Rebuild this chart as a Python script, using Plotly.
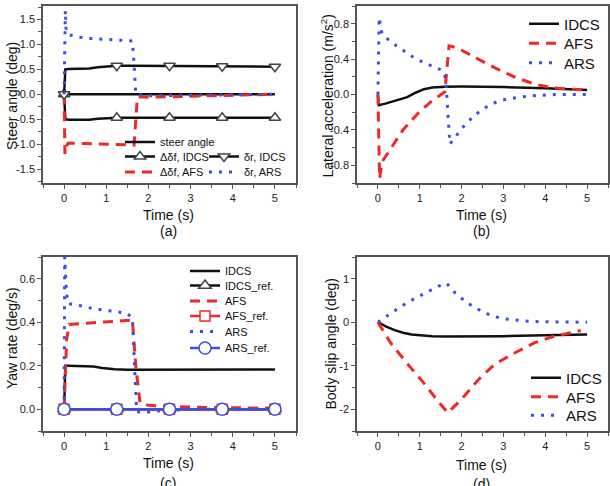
import plotly.graph_objects as go

# ---------------- data ----------------
X_TICKS = [0, 1, 2, 3, 4, 5]
MARKER_T = [0, 1.25, 2.5, 3.75, 5]

# (a) steer angle
A_STEER_T = [0, 5]
A_STEER = [0, 0]
A_DF_IDCS_T = [0, 0.03, 0.1, 0.3, 0.6, 0.8, 1.0, 1.25, 1.6, 2.0, 2.5, 3.0, 3.75, 4.5, 5.0]
A_DF_IDCS = [0, -0.5, -0.51, -0.51, -0.51, -0.49, -0.475, -0.47, -0.47, -0.47, -0.47, -0.47, -0.47, -0.47, -0.47]
A_DR_IDCS_T = [0, 0.03, 0.1, 0.3, 0.6, 0.8, 1.0, 1.25, 1.6, 2.0, 2.5, 3.0, 3.75, 4.5, 5.0]
A_DR_IDCS = [0, 0.5, 0.505, 0.51, 0.515, 0.54, 0.56, 0.57, 0.57, 0.57, 0.57, 0.565, 0.56, 0.555, 0.55]
A_DF_AFS_T = [0, 0.02, 0.05, 0.1, 0.5, 1.0, 1.5, 1.66, 1.7, 1.74, 2.0, 2.5, 3.0, 3.5, 4.0, 4.5, 5.0]
A_DF_AFS = [0, -1.2, -1.05, -0.98, -0.99, -1.0, -1.01, -1.02, -0.5, -0.05, -0.06, -0.05, -0.04, -0.03, -0.02, -0.01, 0.0]
A_DR_ARS_T = [0, 0.01, 0.03, 0.05, 0.1, 0.3, 0.6, 1.0, 1.3, 1.62, 1.66, 1.7, 2.0, 2.5, 3.0, 4.0, 5.0]
A_DR_ARS = [0, 0.8, 1.68, 1.25, 1.2, 1.15, 1.12, 1.1, 1.09, 1.07, 0.6, 0.0, -0.03, -0.03, -0.02, -0.01, 0.0]
A_Y_TICKS = [-1.5, -1.0, -0.5, 0.0, 0.5, 1.0, 1.5]
A_Y_LABELS = ["-1.5", "-1.0", "-0.5", "0.0", "0.5", "1.0", "1.5"]

# (b) lateral acceleration
B_IDCS_T = [0, 0.02, 0.2, 0.5, 0.7, 0.9, 1.1, 1.3, 1.6, 2.0, 3.0, 4.0, 5.0]
B_IDCS = [0, -0.12, -0.1, -0.06, -0.03, 0.02, 0.06, 0.08, 0.088, 0.09, 0.085, 0.07, 0.05]
B_AFS_T = [0, 0.04, 0.1, 0.3, 0.6, 1.0, 1.3, 1.6, 1.7, 1.8, 2.0, 2.4, 2.8, 3.3, 3.8, 4.3, 4.8, 5.0]
B_AFS = [0, -0.95, -0.76, -0.62, -0.4, -0.19, -0.07, 0.03, 0.55, 0.54, 0.5, 0.4, 0.3, 0.19, 0.11, 0.07, 0.05, 0.05]
B_ARS_T = [0, 0.03, 0.1, 0.35, 0.6, 0.85, 1.1, 1.35, 1.55, 1.62, 1.72, 1.9, 2.1, 2.35, 2.6, 2.85, 3.1, 3.4, 3.8, 4.3, 5.0]
B_ARS = [0, 0.87, 0.68, 0.58, 0.5, 0.42, 0.36, 0.31, 0.27, 0.18, -0.56, -0.45, -0.33, -0.22, -0.14, -0.08, -0.05, -0.03, -0.01, 0, 0]
B_Y_TICKS = [-0.8, -0.4, 0.0, 0.4, 0.8]
B_Y_LABELS = ["-0.8", "-0.4", "0.0", "0.4", "0.8"]

# (c) yaw rate
C_IDCS_T = [0, 0.03, 0.1, 0.55, 0.7, 0.9, 1.2, 1.5, 2, 3, 4, 5]
C_IDCS = [0, 0.2, 0.2, 0.2, 0.197, 0.19, 0.184, 0.182, 0.182, 0.182, 0.183, 0.183]
C_AFS_T = [0, 0.03, 0.06, 0.12, 0.5, 1.0, 1.4, 1.62, 1.7, 1.8, 2.0, 2.5, 3.5, 5]
C_AFS = [0, 0.2, 0.32, 0.39, 0.395, 0.4, 0.405, 0.41, 0.2, 0.03, 0.018, 0.012, 0.008, 0.005]
C_ARS_T = [0, 0.015, 0.06, 0.1, 0.3, 0.75, 1.2, 1.5, 1.62, 1.72, 1.9, 2.2, 3.0, 5.0]
C_ARS = [0, 0.7, 0.53, 0.485, 0.48, 0.46, 0.45, 0.44, 0.42, -0.01, -0.015, -0.008, 0, 0]
C_REF_T = [0, 1.25, 2.5, 3.75, 5]
C_IDCS_REF = [0, 0, 0, 0, 0]
C_AFS_REF = [0, 0, 0, 0, 0]
C_ARS_REF = [0, 0, 0, 0, 0]
C_Y_TICKS = [0.0, 0.2, 0.4, 0.6]
C_Y_LABELS = ["0.0", "0.2", "0.4", "0.6"]

# (d) body slip angle
D_IDCS_T = [0, 0.2, 0.4, 0.6, 0.8, 1.0, 1.3, 1.6, 2.0, 3.0, 4.0, 4.5, 5.0]
D_IDCS = [0, -0.1, -0.18, -0.24, -0.28, -0.3, -0.32, -0.325, -0.325, -0.32, -0.3, -0.29, -0.28]
D_AFS_T = [0, 0.3, 0.7, 1.1, 1.45, 1.67, 2.0, 2.4, 2.8, 3.3, 3.75, 4.15, 4.6, 4.85]
D_AFS = [0, -0.47, -0.95, -1.4, -1.83, -2.08, -1.77, -1.32, -0.96, -0.69, -0.47, -0.34, -0.24, -0.19]
D_ARS_T = [0, 0.25, 0.5, 0.75, 1.0, 1.25, 1.45, 1.64, 1.85, 2.1, 2.35, 2.6, 2.8, 3.0, 3.25, 3.5, 3.75, 4.0, 5.0]
D_ARS = [0, 0.17, 0.33, 0.48, 0.61, 0.73, 0.83, 0.9, 0.67, 0.47, 0.32, 0.2, 0.13, 0.08, 0.05, 0.03, 0.015, 0.01, 0.0]
D_Y_TICKS = [-2, -1, 0, 1]
D_Y_LABELS = ["-2", "-1", "0", "1"]

# ---------------- styling ----------------
FONT = "Arial, Liberation Sans, sans-serif"
BLACK = "#111111"
RED = "#f02828"
BLUE = "#3d4fe0"
FRAME = "#555555"
SOLID = dict(color=BLACK, width=2.5)
DASH = dict(color=RED, width=3, dash="10px,7px")
DOT = dict(color=BLUE, width=3, dash="3px,7px")
W, H = 610, 486


def px_x(p):
    return p / W


def px_y(p):
    return 1 - p / H


def marker_idx(ts):
    return [i for i, t in enumerate(ts) if t in MARKER_T]


fig = go.Figure()
legends = {}
_leg_n = [0]


def add(trace, text_x, row_y, fsize):
    """Add a trace with its own legend entry placed at (text_x, row_y) in pixels."""
    _leg_n[0] += 1
    key = "legend" if _leg_n[0] == 1 else f"legend{_leg_n[0]}"
    trace.legend = key
    fig.add_trace(trace)
    legends[key] = dict(bgcolor="rgba(0,0,0,0)", borderwidth=0, xanchor="left", yanchor="middle",
                        x=px_x(text_x - 42), y=px_y(row_y), font=dict(family=FONT, size=fsize, color="#111"))


TRI_MARK = dict(size=10, color="white", line=dict(color="#444", width=1.5))
HIDDEN = dict(marker=dict(opacity=0))
SHOWN = dict(marker=dict(opacity=1))

# (a)
add(go.Scatter(x=A_STEER_T, y=A_STEER, mode="lines", name="steer angle", line=SOLID,
               xaxis="x", yaxis="y"), 162, 142, 11)
add(go.Scatter(x=A_DF_IDCS_T, y=A_DF_IDCS, mode="lines+markers", name="Δδf, IDCS",
               line=dict(color=BLACK, width=2.5), marker=dict(symbol="triangle-up", **TRI_MARK),
               selectedpoints=marker_idx(A_DF_IDCS_T), selected=SHOWN, unselected=HIDDEN,
               xaxis="x", yaxis="y"), 162, 156.5, 11)
add(go.Scatter(x=A_DF_AFS_T, y=A_DF_AFS, mode="lines", name="Δδf, AFS", line=DASH,
               xaxis="x", yaxis="y"), 162, 172, 11)
add(go.Scatter(x=A_DR_IDCS_T, y=A_DR_IDCS, mode="lines+markers", name="δr, IDCS",
               line=dict(color=BLACK, width=2.5), marker=dict(symbol="triangle-down", **TRI_MARK),
               selectedpoints=marker_idx(A_DR_IDCS_T), selected=SHOWN, unselected=HIDDEN,
               xaxis="x", yaxis="y"), 246, 156.5, 11)
add(go.Scatter(x=A_DR_ARS_T, y=A_DR_ARS, mode="lines", name="δr, ARS", line=DOT,
               xaxis="x", yaxis="y"), 246, 172, 11)

# (b)
add(go.Scatter(x=B_IDCS_T, y=B_IDCS, mode="lines", name="IDCS", line=SOLID,
               xaxis="x2", yaxis="y2"), 566, 24, 15)
add(go.Scatter(x=B_AFS_T, y=B_AFS, mode="lines", name="AFS", line=DASH,
               xaxis="x2", yaxis="y2"), 566, 43.5, 15)
add(go.Scatter(x=B_ARS_T, y=B_ARS, mode="lines", name="ARS", line=DOT,
               xaxis="x2", yaxis="y2"), 566, 63, 15)

# (c)
add(go.Scatter(x=C_IDCS_T, y=C_IDCS, mode="lines", name="IDCS", line=SOLID,
               xaxis="x3", yaxis="y3"), 227, 271, 11)
add(go.Scatter(x=C_REF_T, y=C_IDCS_REF, mode="lines+markers", name="IDCS_ref.",
               line=dict(color=BLACK, width=2.5),
               marker=dict(symbol="triangle-up", size=11, color="white", line=dict(color="#444", width=1.5)),
               xaxis="x3", yaxis="y3"), 227, 285.5, 11)
add(go.Scatter(x=C_AFS_T, y=C_AFS, mode="lines", name="AFS", line=DASH,
               xaxis="x3", yaxis="y3"), 227, 301, 11)
add(go.Scatter(x=C_REF_T, y=C_AFS_REF, mode="lines+markers", name="AFS_ref.",
               line=dict(color=RED, width=2.5),
               marker=dict(symbol="square", size=10, color="white", line=dict(color=RED, width=1.5)),
               xaxis="x3", yaxis="y3"), 227, 316, 11)
add(go.Scatter(x=C_ARS_T, y=C_ARS, mode="lines", name="ARS", line=DOT,
               xaxis="x3", yaxis="y3"), 227, 331.5, 11)
add(go.Scatter(x=C_REF_T, y=C_ARS_REF, mode="lines+markers", name="ARS_ref.",
               line=dict(color=BLUE, width=2.5),
               marker=dict(symbol="circle", size=12, color="white", line=dict(color=BLUE, width=1.5)),
               xaxis="x3", yaxis="y3"), 227, 348, 11)

# (d)
add(go.Scatter(x=D_IDCS_T, y=D_IDCS, mode="lines", name="IDCS", line=SOLID,
               xaxis="x4", yaxis="y4"), 568, 378, 15)
add(go.Scatter(x=D_AFS_T, y=D_AFS, mode="lines", name="AFS", line=DASH,
               xaxis="x4", yaxis="y4"), 568, 397, 15)
add(go.Scatter(x=D_ARS_T, y=D_ARS, mode="lines", name="ARS", line=DOT,
               xaxis="x4", yaxis="y4"), 568, 415.5, 15)


def xax(domain, anchor):
    return dict(domain=domain, anchor=anchor, range=[-0.5, 5.5], tickvals=X_TICKS,
                ticktext=[str(v) for v in X_TICKS], showgrid=False, zeroline=False,
                showline=True, linecolor=FRAME, linewidth=1.5, mirror=True,
                ticks="outside", ticklen=4, tickwidth=1.2, tickcolor=FRAME,
                minor=dict(dtick=0.5, tick0=0, ticks="outside", ticklen=3, tickcolor=FRAME, showgrid=False),
                tickfont=dict(family=FONT, size=11, color="#222"), automargin=False)


def yax(domain, anchor, rng, tv, tt, minor):
    return dict(domain=domain, anchor=anchor, range=rng, tickvals=tv, ticktext=tt,
                showgrid=False, zeroline=False, showline=True, linecolor=FRAME, linewidth=1.5,
                mirror=True, ticks="outside", ticklen=4, tickwidth=1.2, tickcolor=FRAME,
                minor=dict(dtick=minor, tick0=0, ticks="outside", ticklen=3, tickcolor=FRAME, showgrid=False),
                tickfont=dict(family=FONT, size=11, color="#222"), automargin=False)


XL = [px_x(43), px_x(296)]
XR = [px_x(357), px_x(608)]
YT = [px_y(183), px_y(6)]
YB = [px_y(431), px_y(257)]

fig.update_layout(
    width=W, height=H, margin=dict(l=0, r=0, t=0, b=0),
    paper_bgcolor="white", plot_bgcolor="white",
    font=dict(family=FONT, color="#111"),
    xaxis=xax(XL, "y"), yaxis=yax(YT, "x", [-1.78, 1.77], A_Y_TICKS, A_Y_LABELS, 0.25),
    xaxis2=xax(XR, "y2"), yaxis2=yax(YT, "x2", [-1.0, 1.0], B_Y_TICKS, B_Y_LABELS, 0.2),
    xaxis3=xax(XL, "y3"), yaxis3=yax(YB, "x3", [-0.1, 0.7], C_Y_TICKS, C_Y_LABELS, 0.1),
    xaxis4=xax(XR, "y4"), yaxis4=yax(YB, "x4", [-2.5, 1.5], D_Y_TICKS, D_Y_LABELS, 0.5),
    showlegend=True, dragmode=False,
    **legends,
)

TITLE_FONT = dict(family=FONT, size=14, color="#111")
annots = [
    # y titles
    dict(text="Steer angle (deg)", x=px_x(12), y=px_y(96), textangle=-90),
    dict(text="Lateral acceleration (m/s<sup>2</sup>)", x=px_x(327.5), y=px_y(96), textangle=-90),
    dict(text="Yaw rate (deg/s)", x=px_x(12), y=px_y(338), textangle=-90),
    dict(text="Body slip angle (deg)", x=px_x(330), y=px_y(343.5), textangle=-90),
    # x titles
    dict(text="Time (s)", x=px_x(168), y=px_y(215)),
    dict(text="Time (s)", x=px_x(481), y=px_y(215)),
    dict(text="Time (s)", x=px_x(168), y=px_y(463)),
    dict(text="Time (s)", x=px_x(482), y=px_y(464.5)),
    # panel labels
    dict(text="(a)", x=px_x(168), y=px_y(231)),
    dict(text="(b)", x=px_x(482), y=px_y(231)),
    dict(text="(c)", x=px_x(168), y=px_y(483)),
    dict(text="(d)", x=px_x(482), y=px_y(484)),
]
for a in annots:
    fig.add_annotation(xref="paper", yref="paper", showarrow=False, xanchor="center", yanchor="middle",
                       font=TITLE_FONT, **a)

fig.write_html("out.html")
